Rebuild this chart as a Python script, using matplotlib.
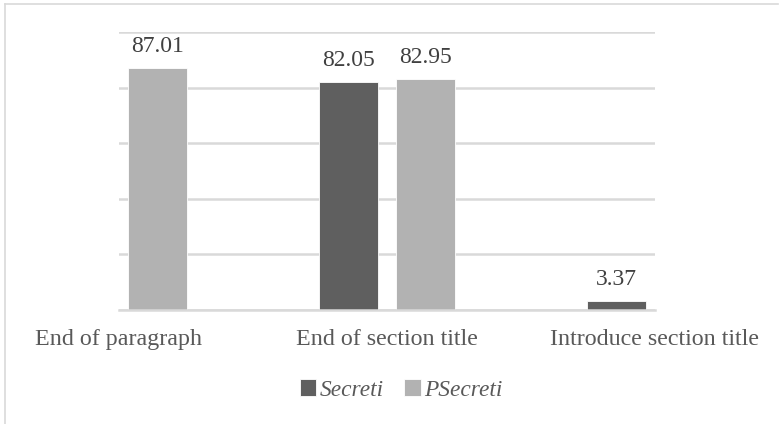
import numpy as np
import matplotlib.pyplot as plt
from matplotlib.lines import Line2D

categories = ['End of paragraph', 'End of section title', 'Introduce section title']
secreti = [np.nan, 82.05, 3.37]
psecreti = [87.01, 82.95, np.nan]
series_names = ['Secreti', 'PSecreti']

dark = '#5f5f5f'
light = '#b2b2b2'
text_col = '#595959'
grid_col = '#d9d9d9'

plt.rcParams['font.family'] = ['Liberation Serif', 'DejaVu Serif']

fig = plt.figure(figsize=(7.79, 4.24), dpi=100)
ax = fig.add_axes([119 / 779, 1 - 310 / 424, 536 / 779, 278 / 424])

x = np.arange(len(categories))
w = 0.22
off = 0.143

b1 = ax.bar(x - off, secreti, w, color=dark, edgecolor='white', linewidth=0.6, label=series_names[0])
b2 = ax.bar(x + off, psecreti, w, color=light, edgecolor='white', linewidth=0.6, label=series_names[1])

# value labels above each bar
for bars, vals in ((b1, secreti), (b2, psecreti)):
    for rect, v in zip(bars, vals):
        if np.isnan(v):
            continue
        ax.annotate(f'{v:.2f}', (rect.get_x() + rect.get_width() / 2, v),
                    xytext=(0, 8), textcoords='offset points',
                    ha='center', va='bottom', fontsize=17, color='#404040')

ax.set_xlim(0, 2)
ax.set_ylim(0, 100)
ax.set_yticks(np.arange(0, 101, 20))
ax.yaxis.grid(True, color=grid_col, linewidth=1.8)
ax.set_axisbelow(True)
ax.tick_params(axis='y', left=False, labelleft=False)
ax.tick_params(axis='x', length=0, pad=13.5, labelsize=17.3, labelcolor=text_col)
ax.set_xticks(x)
ax.set_xticklabels(categories)
for side in ('top', 'right', 'left'):
    ax.spines[side].set_visible(False)
ax.spines['bottom'].set_color(grid_col)
ax.spines['bottom'].set_linewidth(1.8)
for lbl in ax.get_xticklabels():
    lbl.set_clip_on(False)

leg = fig.legend(handles=[b1, b2], labels=series_names, loc='center',
                 bbox_to_anchor=(401 / 779, 1 - 390 / 424), ncol=2, frameon=False,
                 prop={'style': 'italic', 'size': 16.8}, handlelength=0.72,
                 handleheight=0.72, handletextpad=0.12, columnspacing=0.9)
for t in leg.get_texts():
    t.set_color(text_col)

# thin frame along the top and left edges
fig.add_artist(Line2D([5 / 779, 778 / 779], [1 - 3.5 / 424] * 2, color='#d9d9d9', lw=1.2, transform=fig.transFigure))
fig.add_artist(Line2D([5 / 779] * 2, [0, 1 - 3.5 / 424], color='#d9d9d9', lw=1.2, transform=fig.transFigure))

fig.savefig('out.png', dpi=100, facecolor='white')
